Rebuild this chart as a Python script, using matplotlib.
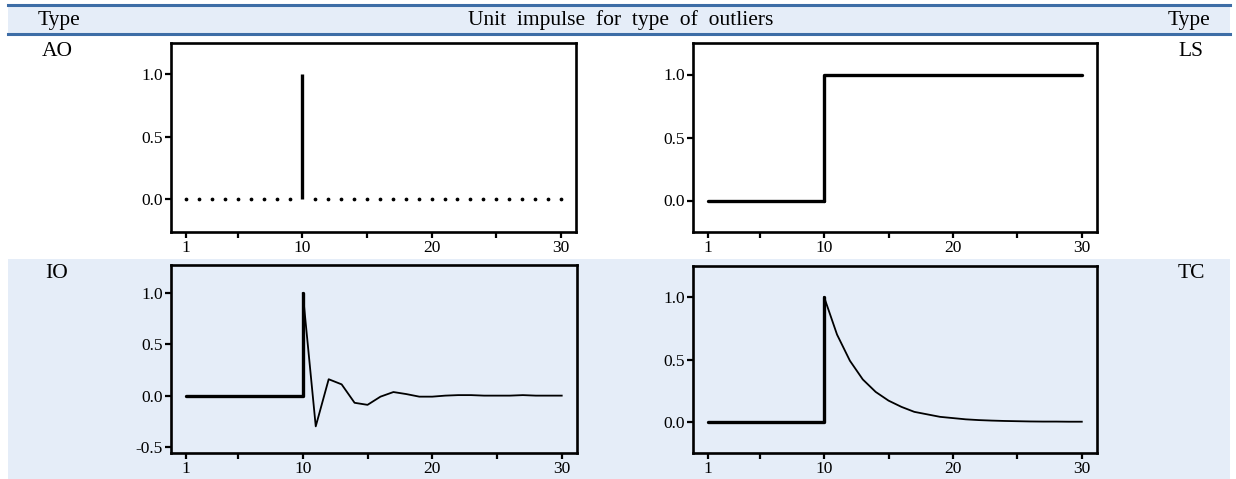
"""
Unit impulse responses for the four outlier types (AO, LS, IO, TC),
laid out as a small table with a header row.
"""
import numpy as np
import matplotlib
matplotlib.use("Agg")
import matplotlib.pyplot as plt
from matplotlib.patches import Rectangle
from matplotlib.lines import Line2D

# ---- data -------------------------------------------------------------
t = list(range(1, 31))
event_t = 10

ao_values = [0] * 9 + [1.0] + [0] * 20
ls_values = [0] * 9 + [1.0] * 21
io_values = [0] * 9 + [1.0, -0.30, 0.16, 0.11, -0.07, -0.09, -0.01, 0.035,
                       0.015, -0.01, -0.01, 0.0, 0.005, 0.005, 0.0, 0.0, 0.0,
                       0.005, 0.0, 0.0, 0.0]
tc_values = [0] * 9 + [1.0, 0.70, 0.49, 0.34, 0.24, 0.17, 0.12, 0.08, 0.06,
                       0.04, 0.03, 0.02, 0.014, 0.01, 0.007, 0.005, 0.003,
                       0.002, 0.002, 0.001, 0.001]

header_left = "Type"
header_mid = "Unit impulse for type of outliers"
header_right = "Type"
row_labels = [("AO", "LS"), ("IO", "TC")]

x_major = [1, 10, 20, 30]
x_minor = [5, 15, 25]

W, H = 1236, 479
BAND = "#e5edf8"
RULE = "#3d6da6"
SERIF = ["Liberation Serif", "DejaVu Serif"]


def px_rect(x0, y0, x1, y1):
    """pixel box (top-left origin) -> figure fraction rect"""
    return [x0 / W, 1 - y1 / H, (x1 - x0) / W, (y1 - y0) / H]


def style_axes(ax, ylim, yticks):
    ax.set_facecolor("none")
    ax.set_zorder(3)
    ax.set_xlim(-0.18, 31.18)
    ax.set_ylim(*ylim)
    ax.set_xticks(x_major)
    ax.set_xticks(x_minor, minor=True)
    ax.set_yticks(yticks)
    ax.set_yticklabels([f"{v:.1f}" for v in yticks])
    for s in ax.spines.values():
        s.set_linewidth(1.9)
    ax.tick_params(axis="both", which="both", direction="out", length=4,
                   width=1.6, labelsize=12.5, pad=2)
    for lab in ax.get_xticklabels() + ax.get_yticklabels():
        lab.set_family(SERIF)


fig = plt.figure(figsize=(W / 100, H / 100), dpi=100)

# table backgrounds and rules
fig.patches.append(Rectangle((8 / W, 1 - 34 / H), (1230 - 8) / W, 29 / H,
                             transform=fig.transFigure, facecolor=BAND,
                             edgecolor="none", zorder=-2))
fig.patches.append(Rectangle((8 / W, 0), (1230 - 8) / W, 1 - 259 / H,
                             transform=fig.transFigure, facecolor=BAND,
                             edgecolor="none", zorder=-2))
for yy in (5, 34):
    fig.lines.append(Line2D([8 / W, 1230 / W], [1 - yy / H, 1 - yy / H],
                            transform=fig.transFigure, color=RULE, lw=2.2,
                            zorder=-1))

# header
fig.text(59 / W, 1 - 20 / H, header_left, ha="center", va="center",
         fontsize=15.5, family=SERIF)
fig.text(621 / W, 1 - 20 / H, header_mid.replace(" ", "  "), ha="center",
         va="center", fontsize=15.5, family=SERIF)
fig.text(1189 / W, 1 - 20 / H, header_right, ha="center", va="center",
         fontsize=15.5, family=SERIF)

# row labels
for (lab_l, lab_r), yy in zip(row_labels, (52, 273)):
    fig.text(57 / W, 1 - yy / H, lab_l, ha="center", va="center",
             fontsize=15.5, family=SERIF)
    fig.text(1191 / W, 1 - yy / H, lab_r, ha="center", va="center",
             fontsize=15.5, family=SERIF)

ax_ao = fig.add_axes(px_rect(171, 43, 576, 232))
ax_ls = fig.add_axes(px_rect(693, 43, 1097, 232))
ax_io = fig.add_axes(px_rect(171, 265, 577, 453))
ax_tc = fig.add_axes(px_rect(693, 266, 1097, 453))

t_arr = np.array(t)
k = t.index(event_t)

# AO: dots at zero, spike at the event
ao = np.array(ao_values)
ax_ao.plot(t_arr[ao == 0], ao[ao == 0], linestyle="none", marker="o",
           markersize=1.7, color="black")
ax_ao.vlines(t_arr[ao != 0], 0, ao[ao != 0], color="black", lw=2.4)
style_axes(ax_ao, (-0.265, 1.25), [0.0, 0.5, 1.0])

# LS: level shift
ax_ls.plot(t[:k + 1], ls_values[:k] + [0], color="black", lw=2.4,
           solid_capstyle="round")
ax_ls.plot([event_t] + t[k:], [0] + ls_values[k:], color="black", lw=2.4,
           solid_capstyle="round")
style_axes(ax_ls, (-0.25, 1.25), [0.0, 0.5, 1.0])

# IO: innovational outlier
ax_io.plot(t[:k + 1] + [event_t], io_values[:k] + [0, io_values[k]],
           color="black", lw=2.4, solid_capstyle="round")
ax_io.plot(t[k:], io_values[k:], color="black", lw=1.3)
style_axes(ax_io, (-0.56, 1.275), [-0.5, 0.0, 0.5, 1.0])

# TC: temporary change
ax_tc.plot(t[:k + 1] + [event_t], tc_values[:k] + [0, tc_values[k]],
           color="black", lw=2.4, solid_capstyle="round")
ax_tc.plot(t[k:], tc_values[k:], color="black", lw=1.3)
style_axes(ax_tc, (-0.25, 1.25), [0.0, 0.5, 1.0])

fig.savefig("out.png", dpi=100)
